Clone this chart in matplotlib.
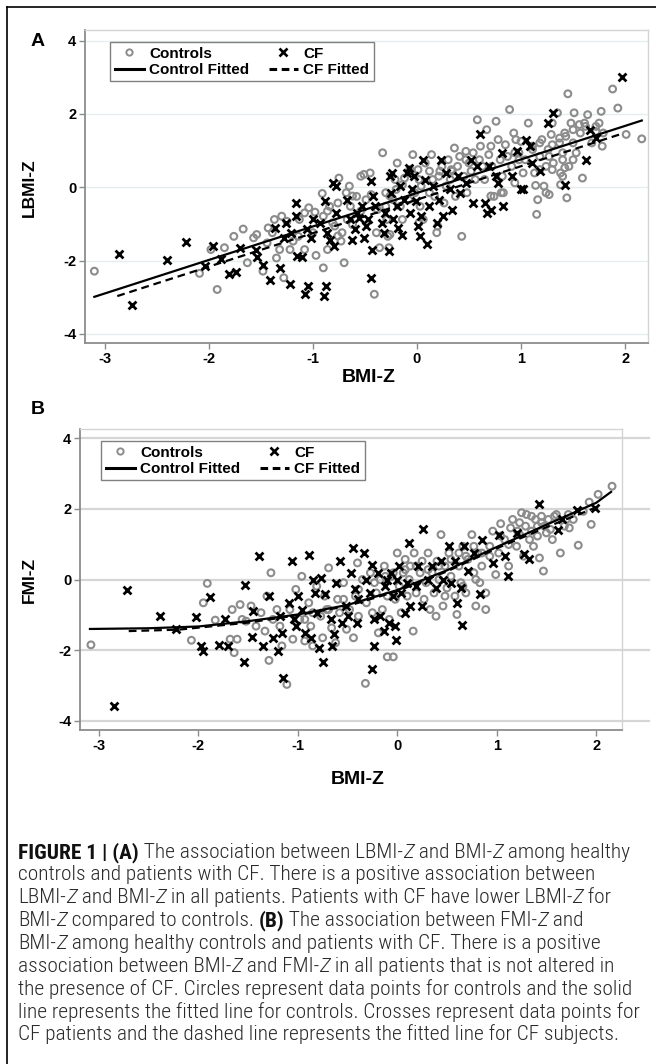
import matplotlib
matplotlib.use('Agg')
import matplotlib.pyplot as plt
from matplotlib import font_manager
from matplotlib.lines import Line2D
from matplotlib.legend_handler import HandlerLine2D
from matplotlib.transforms import IdentityTransform

####################################
#               Data               #
####################################

# Panel A: LBMI-Z vs BMI-Z
a_ctrl_x = [-3.10, -2.09, -1.92, -1.98, -1.85, -1.67, -1.63, -1.57, -1.54, -1.48, -1.44, -1.39, -1.35,
            -1.30, -1.28, -1.25, -1.22, -1.19, -1.13, -1.08, -1.04, -1.00, -0.98, -0.97, -0.91, -0.90,
            -0.86, -0.79, -0.76, -0.75, -0.72, -0.70, -0.68, -0.65, -0.64, -0.62, -0.58, -0.54, -0.51,
            -0.49, -0.45, -0.44, -0.41, -0.38, -0.36, -0.33, -0.30, -0.29, -0.28, -0.23, -0.21, -0.19,
            -0.16, -0.14, -0.12, -0.08, -0.06, -0.04, -0.02, 0.01, 0.03, 0.04, 0.06, 0.08, 0.12, 0.14,
            0.17, 0.19, 0.21, 0.24, 0.26, 0.28, 0.30, 0.32, 0.34, 0.36, 0.37, 0.39, 0.41, 0.43, 0.45,
            0.47, 0.48, 0.50, 0.52, 0.54, 0.56, 0.58, 0.60, 0.61, 0.63, 0.65, 0.67, 0.69, 0.71, 0.72,
            0.74, 0.76, 0.78, 0.80, 0.82, 0.83, 0.85, 0.87, 0.89, 0.91, 0.93, 0.94, 0.98, 1.00, 1.02,
            1.04, 1.07, 1.11, 1.13, 1.15, 1.16, 1.18, 1.20, 1.22, 1.24, 1.26, 1.27, 1.29, 1.31, 1.35,
            1.37, 1.38, 1.40, 1.42, 1.44, 1.45, 1.46, 1.48, 1.50, 1.51, 1.53, 1.57, 1.59, 1.61, 1.64,
            1.68, 1.72, 1.77, 1.79, 1.88, 1.93, 2.01, 2.16, -1.43, -1.37, -1.14, -1.08, -1.32, -1.76,
            -0.67, -0.86, -0.27, -0.73,
            1.30, 0.95, 1.11, 1.18, 1.30, 1.37, 1.43, 1.50, 1.56, 1.62, 1.72, 1.75, 1.78, 1.27, 1.40,
            1.50, 1.42, 1.40, 1.30, 1.18, 1.14, 1.24, 1.38, 0.81, 0.71, 0.94, 0.98, 0.47, 0.33, 0.22,
            0.15, 0.02, -0.07, 0.12, -0.14, -0.20, -0.26, -0.30, -0.54, -0.62, -0.76, -0.84, -0.90,
            -0.81, -0.39, -0.26, 0.02, 0.20]
a_ctrl_y = [-2.29, -2.35, -2.79, -1.70, -1.65, -1.14, -2.06, -1.38, -1.29, -2.29, -1.52, -1.24, -1.93,
            -0.79, -2.47, -0.93, -1.70, -1.47, -0.88, -0.70, -0.56, -1.24, -0.68, -1.86, -0.17, -2.20,
            -0.65, -1.06, -0.43, 0.25, -1.24, -2.06, -0.15, 0.03, -0.52, -1.02, -0.25, -0.65, 0.35,
            -0.34, 0.39, -0.20, -2.92, -0.61, -1.65, 0.94, -0.15, -0.88, -1.34, -0.34, 0.21, 0.66,
            -0.52, -0.88, 0.25, -0.34, 0.44, 0.89, -0.15, 0.48, -0.52, 0.03, -0.88, 0.66, 0.44, 0.89,
            -0.25, -1.24, 0.30, 0.57, -0.43, 0.03, 0.75, 0.21, 0.44, 1.07, -0.25, 0.57, 0.84, -1.34, 0.30,
            0.98, -0.15, 0.66, 0.44, 0.94, 0.21, 1.84, 0.75, 1.12, 0.57, 0.21, 1.57, 0.89, 1.12, 0.57,
            -0.25, 1.80, 1.30, 0.75, 0.30, -0.15, 1.16, 0.84, 2.12, 0.57, 1.48, 0.12, 0.94, 1.25, 0.39,
            0.75, 1.75, 1.12, 0.39, -0.74, -0.34, 0.84, 1.30, 0.03, 0.57, 1.03, -0.20, 1.44, 0.66, 2.03,
            1.21, 0.39, 0.94, 1.48, -0.29, 2.55, 0.57, 1.75, 1.21, 2.03, 0.94, 1.48, 0.25, 1.75, 1.98,
            1.21, 1.66, 2.07, 1.48, 2.68, 2.16, 1.44, 1.32, -1.11, -0.88, -1.34, -1.70, -1.70, -1.34,
            -0.88, -1.70, -1.65, -1.47,
            1.75, 1.30, 1.03, 1.21, 1.16, 1.34, 1.39, 1.57, 1.71, 1.66, 1.52, 1.75, 1.12, 0.84, 0.75,
            0.75, 0.53, 0.30, 0.48, 0.48, 0.05, -0.15, 0.07, -0.15, -0.24, 0.94, 0.75, 0.75, 0.48, 0.44,
            0.21, 0.21, 0.48, -0.15, 0.07, -0.06, -0.24, -0.52, 0.30, -0.24, -1.33, -0.52, -0.79,
            -0.97, -1.24, -1.29, -0.97, -1.06]

a_cf_x = [-2.86, -2.74, -2.40, -2.22, -2.04, -1.96, -1.88, -1.81, -1.74, -1.70, -1.55, -1.54, -1.48,
          -1.41, -1.36, -1.32, -1.28, -1.26, -1.22, -1.21, -1.16, -1.16, -1.15, -1.10, -1.08, -1.05,
          -1.06, -1.02, -1.00, -0.93, -0.89, -0.88, -0.87, -0.86, -0.84, -0.81, -0.80, -0.78, -0.78,
          -0.67, -0.64, -0.62, -0.60, -0.58, -0.56, -0.53, -0.51, -0.49, -0.47, -0.44, -0.44, -0.43,
          -0.42, -0.40, -0.34, -0.32, -0.31, -0.27, -0.26, -0.25, -0.24, -0.23, -0.19, -0.18, -0.16,
          -0.14, -0.12, -0.10, -0.08, -0.07, -0.05, -0.03, -0.01, 0.01, 0.03, 0.04, 0.06, 0.08, 0.10,
          0.12, 0.15, 0.19, 0.21, 0.23, 0.25, 0.28, 0.32, 0.34, 0.39, 0.41, 0.47, 0.52, 0.54, 0.58,
          0.61, 0.65, 0.67, 0.69, 0.71, 0.76, 0.78, 0.82, 0.83, 0.91, 0.96, 1.00, 1.02, 1.05, 1.09,
          1.11, 1.18, 1.26, 1.31, 1.42, 1.62, 1.66, 1.72, 1.97]
a_cf_y = [-1.82, -3.20, -1.99, -1.49, -2.15, -1.61, -1.95, -2.38, -2.31, -1.65, -1.70, -1.90, -2.11,
          -2.52, -1.11, -2.20, -1.38, -0.97, -2.65, -1.24, -0.43, -0.79, -1.88, -1.90, -2.92, -2.70,
          -1.14, -1.38, -0.88, -0.97, -2.97, -0.38, -2.70, -1.24, -1.43, 0.12, -1.61, 0.03, -0.70,
          -0.34, -0.88, -1.43, -1.15, -0.70, -0.84, -0.52, -1.38, -1.06, -0.88, -2.47, 0.16, -1.70,
          -0.25, -0.52, -0.97, -1.24, -0.70, -1.74, 0.30, -0.15, 0.39, -0.88, -0.52, -1.11, 0.03,
          -1.29, -0.34, 0.39, 0.53, -0.70, -0.06, 0.30, -0.38, -1.06, -1.34, -0.79, 0.75, 0.21, -1.56,
          -0.52, 0.03, -0.97, -0.34, 0.75, -0.79, 0.39, -0.06, -0.61, 0.30, -0.15, 0.12, 0.75, -0.43,
          0.57, 1.44, -0.43, -0.70, 0.57, -0.61, 0.30, 0.12, 0.94, -0.52, 0.30, 0.98, -0.06, -0.06,
          1.30, 1.12, 0.66, 0.44, 1.75, 2.03, 0.07, 0.75, 1.57, 1.34, 3.01]

a_ctrl_fit_x = [-3.10, 2.16]
a_ctrl_fit_y = [-2.99, 1.82]
a_cf_fit_x = [-2.88, 1.97]
a_cf_fit_y = [-2.97, 1.46]

# Panel B: FMI-Z vs BMI-Z
b_ctrl_x = [-3.08, -2.07, -1.95, -1.91, -1.83, -1.68, -1.66, -1.64, -1.61, -1.58, -1.56, -1.52, -1.47,
            -1.42, -1.37, -1.33, -1.31, -1.29, -1.27, -1.25, -1.21, -1.18, -1.16, -1.11, -1.08, -1.05,
            -1.02, -0.98, -0.96, -0.93, -0.89, -0.87, -0.85, -0.81, -0.77, -0.75, -0.73, -0.71, -0.69,
            -0.66, -0.62, -0.60, -0.58, -0.54, -0.51, -0.48, -0.44, -0.42, -0.40, -0.39, -0.35, -0.32,
            -0.31, -0.27, -0.25, -0.21, -0.19, -0.17, -0.15, -0.13, -0.10, -0.10, -0.08, -0.06, -0.04,
            -0.02, 0.00, 0.02, 0.04, 0.06, 0.08, 0.10, 0.12, 0.13, 0.16, 0.17, 0.19, 0.23, 0.25, 0.27,
            0.29, 0.31, 0.33, 0.35, 0.37, 0.39, 0.40, 0.42, 0.44, 0.46, 0.48, 0.50, 0.52, 0.54, 0.58,
            0.60, 0.62, 0.64, 0.66, 0.69, 0.71, 0.75, 0.77, 0.79, 0.81, 0.83, 0.85, 0.89, 0.93, 0.96,
            0.99, 1.02, 1.04, 1.08, 1.12, 1.16, 1.20, 1.21, 1.25, 1.27, 1.29, 1.33, 1.35, 1.37, 1.41,
            1.43, 1.45, 1.47, 1.50, 1.52, 1.56, 1.60, 1.64, 1.68, 1.72, 1.77, 1.82, 1.87, 1.93, 1.95,
            2.02, 2.16,
            1.04, 1.14, 1.23, 1.30, 1.39, 1.45, 1.48, 1.54, 1.41, 1.35, 1.23, 1.12, 0.93, 0.85, 0.77,
            0.69, 0.62, 0.54, 0.42, 0.31, 0.19, 0.08, -0.04, -0.12, -0.23, -0.39, -0.54, -0.69, -0.85,
            -0.93, 0.48, 0.66, 0.79, 0.89, 1.70, 1.58, 1.73]
b_ctrl_y = [-1.85, -1.72, -0.66, -0.11, -1.15, -1.69, -0.85, -2.07, -1.69, -0.71, -1.13, -1.18, -0.75,
            -1.32, -0.94, -1.46, -0.47, -2.29, 0.19, -1.13, -0.85, -1.32, -1.88, -2.97, -0.85, -1.69,
            -0.28, -1.13, 0.09, -1.74, -0.66, -1.32, -1.88, -0.19, -1.04, -1.65, -0.47, -0.85, 0.33,
            -1.37, -1.79, -0.56, -0.94, -0.09, -1.41, -0.85, -1.65, -0.47, 0.47, -1.04, 0.00, -2.94,
            -0.66, 0.19, -0.94, -0.38, -1.51, 0.00, -0.85, 0.38, -2.19, -0.47, -1.13, 0.09, -2.19,
            -0.56, 0.75, -0.19, -0.94, 0.19, 0.57, -0.47, 0.00, 0.38, -1.46, 0.75, -0.38, 0.19, 0.52,
            -0.56, -0.09, 0.75, -0.85, 0.19, -0.38, -1.04, 0.52, 0.00, 1.27, -0.75, 0.38, -0.24, 0.75,
            0.09, -0.47, -0.99, 0.38, -0.09, 0.94, -0.38, 0.57, 1.27, 0.19, -0.75, 0.75, -0.09, 0.38,
            -0.85, 0.94, 1.37, 0.14, 0.75, 1.58, 1.13, 0.38, 1.70, 0.94, 1.37, 1.89, 0.66, 1.51, 1.13,
            1.79, 0.94, 1.51, 0.61, 1.79, 0.24, 1.32, 1.70, 1.13, 1.84, 0.75, 1.51, 1.84, 1.70, 0.97,
            1.93, 2.19, 1.56, 2.41, 2.64,
            1.23, 1.46, 1.61, 1.84, 1.70, 1.61, 1.51, 1.42, 1.23, 1.37, 1.27, 0.99, 0.66, 0.75, 0.94,
            0.66, 0.75, 0.57, 0.38, 0.28, 0.38, 0.28, 0.19, 0.09, -0.09, -0.28, -0.56, -0.85, -0.94,
            -1.13, -0.47, -0.19, 0.00, -0.38, 1.70, 1.79, 1.46]

b_cf_x = [-2.72, -2.85, -2.39, -2.22, -2.02, -1.97, -1.95, -1.88, -1.79, -1.73, -1.70, -1.53, -1.54,
          -1.46, -1.45, -1.39, -1.35, -1.29, -1.25, -1.20, -1.18, -1.16, -1.15, -1.09, -1.06, -1.04,
          -1.02, -1.00, -0.96, -0.93, -0.89, -0.87, -0.85, -0.83, -0.81, -0.79, -0.77, -0.75, -0.73,
          -0.67, -0.66, -0.64, -0.62, -0.58, -0.56, -0.52, -0.50, -0.46, -0.44, -0.42, -0.40, -0.39,
          -0.33, -0.31, -0.27, -0.25, -0.25, -0.23, -0.23, -0.19, -0.17, -0.13, -0.12, -0.10, -0.08,
          -0.06, -0.04, -0.02, -0.01, 0.00, 0.02, 0.04, 0.08, 0.10, 0.12, 0.13, 0.19, 0.21, 0.25, 0.26,
          0.31, 0.35, 0.39, 0.44, 0.46, 0.52, 0.54, 0.58, 0.60, 0.64, 0.65, 0.67, 0.71, 0.77, 0.83,
          0.85, 0.96, 1.02, 1.08, 1.11, 1.20, 1.27, 1.32, 1.43, 1.62, 1.66, 1.81, 1.99]
b_cf_y = [-0.30, -3.58, -1.02, -1.41, -1.05, -1.88, -2.02, -0.49, -1.84, -1.13, -1.88, -0.16, -2.34,
          -1.62, -0.89, 0.66, -1.88, -0.47, -1.65, -2.02, -1.04, -1.51, -2.80, -0.66, 0.52, -1.13,
          -1.32, -0.47, -0.85, -1.51, 0.68, -1.65, 0.00, -0.38, -0.94, -1.93, 0.05, -2.34, -0.42,
          -1.13, -1.88, -1.55, -0.09, 0.52, -1.22, -0.75, -1.04, 0.19, 0.89, -0.28, -1.22, -0.56,
          0.75, 0.00, -0.38, 0.42, -2.52, -1.13, -1.88, 0.19, -1.04, -1.46, -0.19, 0.00, -1.22,
          0.19, -0.47, -1.32, -1.72, 0.00, 0.38, -0.38, -0.94, -0.09, 1.04, -0.75, -0.19, 0.38, -0.75,
          1.43, 0.00, 0.38, -0.24, 0.52, 0.00, 0.94, -0.09, 0.52, -0.66, -0.24, -1.29, 0.94, 0.24,
          0.75, -0.42, 1.13, 0.47, 1.27, 0.66, 0.11, 1.32, 0.71, 0.57, 2.15, 1.39, 1.70, 1.98, 2.02]

b_ctrl_fit_x = [-3.09, -2.5, -2.0, -1.5, -1.0, -0.5, 0.0, 0.5, 1.0, 1.5, 2.0, 2.15]
b_ctrl_fit_y = [-1.40, -1.38, -1.33, -1.18, -0.99, -0.72, -0.30, 0.26, 0.92, 1.55, 2.17, 2.48]
b_cf_fit_x = [-2.70, -2.2, -1.5, -1.0, -0.5, 0.0, 0.5, 1.0, 1.5, 2.0]
b_cf_fit_y = [-1.46, -1.42, -1.22, -1.01, -0.75, -0.33, 0.23, 0.88, 1.48, 2.04]

x_ticks = [-3, -2, -1, 0, 1, 2]
y_ticks = [-4, -2, 0, 2, 4]

caption_lines = [
    [("FIGURE 1 | (A)", "bold", "normal"), (" The association between LBMI-", "normal", "normal"),
     ("Z", "normal", "italic"), (" and BMI-", "normal", "normal"), ("Z", "normal", "italic"),
     (" among healthy", "normal", "normal")],
    [("controls and patients with CF. There is a positive association between", "normal", "normal")],
    [("LBMI-", "normal", "normal"), ("Z", "normal", "italic"), (" and BMI-", "normal", "normal"),
     ("Z", "normal", "italic"), (" in all patients. Patients with CF have lower LBMI-", "normal", "normal"),
     ("Z", "normal", "italic"), (" for", "normal", "normal")],
    [("BMI-", "normal", "normal"), ("Z", "normal", "italic"), (" compared to controls. ", "normal", "normal"),
     ("(B)", "bold", "normal"), (" The association between FMI-", "normal", "normal"),
     ("Z", "normal", "italic"), (" and", "normal", "normal")],
    [("BMI-", "normal", "normal"), ("Z", "normal", "italic"),
     (" among healthy controls and patients with CF. There is a positive", "normal", "normal")],
    [("association between BMI-", "normal", "normal"), ("Z", "normal", "italic"),
     (" and FMI-", "normal", "normal"), ("Z", "normal", "italic"),
     (" in all patients that is not altered in", "normal", "normal")],
    [("the presence of CF. Circles represent data points for controls and the solid", "normal", "normal")],
    [("line represents the fitted line for controls. Crosses represent data points for", "normal", "normal")],
    [("CF patients and the dashed line represents the fitted line for CF subjects.", "normal", "normal")],
]

####################################
#             Settings             #
####################################

W, H = 656, 1064
plt.rcParams['font.family'] = ['Liberation Sans', 'DejaVu Sans']
plt.rcParams['font.weight'] = 'bold'
plt.rcParams['axes.unicode_minus'] = False

ctrl_color = '#8c8c8c'
spine_color = '#8c8c8c'
frame_color = '#d4d4d4'

# caption is set in a light condensed face in the original; use one if there is any
installed = {f.name for f in font_manager.fontManager.ttflist}
cap_family = [f for f in ['Liberation Sans Narrow', 'Roboto Condensed', 'Open Sans Condensed']
              if f in installed] + ['Liberation Sans']
cap_light = 'light'


def px_rect(left, right, top, bottom):
    return [left / W, 1 - bottom / H, (right - left) / W, (bottom - top) / H]


class RightMarker(HandlerLine2D):
    def get_xdata(self, legend, xdescent, ydescent, width, height, fontsize):
        xd, xm = super().get_xdata(legend, xdescent, ydescent, width, height, fontsize)
        return xd, [-xdescent + 0.78 * width]


def make_panel(ax, cx, cy, fx, fy, cfx, cfy, gx, gy, xlim, ylim, grid_col, grid_lw, grid_ext):
    ax.set_xlim(*xlim)
    ax.set_ylim(*ylim)
    for yv in y_ticks:
        ax.axhline(yv, xmin=0, xmax=grid_ext, color=grid_col, lw=grid_lw, zorder=0, clip_on=False)
    ax.scatter(cx, cy, s=24, facecolors='none', edgecolors=ctrl_color, linewidths=1.5, zorder=2)
    ax.scatter(fx, fy, s=32, marker='x', color='black', linewidths=2.0, zorder=3)
    ax.plot(cfx, cfy, color='black', lw=1.6, zorder=4)
    ax.plot(gx, gy, color='black', lw=1.6, ls=(0, (3.5, 2.2)), zorder=4)
    ax.set_xticks(x_ticks)
    ax.set_yticks(y_ticks)
    ax.tick_params(direction='out', length=4.3, width=1, color=spine_color, labelsize=10.5, pad=2)
    for side in ['left', 'bottom']:
        ax.spines[side].set_color(spine_color)
        ax.spines[side].set_linewidth(1.3)
    for side in ['top', 'right']:
        ax.spines[side].set_color(frame_color)
        ax.spines[side].set_linewidth(1.0)


def add_legend(ax, left, top):
    handles = [Line2D([], [], marker='o', ls='none', mfc='none', mec=ctrl_color, ms=4.5, mew=1.4),
               Line2D([], [], color='black', lw=2.2),
               Line2D([], [], marker='x', ls='none', color='black', ms=5.5, mew=1.9),
               Line2D([], [], color='black', lw=2.2, ls=(0, (2.5, 1.5)))]
    labels = ['Controls', 'Control Fitted', 'CF', 'CF Fitted']
    leg = ax.legend(handles, labels, ncol=2, loc='upper left',
                    bbox_to_anchor=(left / W, 1 - top / H), bbox_transform=ax.figure.transFigure,
                    fontsize=11, frameon=True, fancybox=False, framealpha=1, edgecolor='#808080',
                    borderpad=0.3, labelspacing=0.15, handlelength=1.9, handletextpad=0.35,
                    columnspacing=1.3, borderaxespad=0,
                    handler_map={handles[0]: RightMarker(numpoints=1), handles[2]: RightMarker(numpoints=1)})
    leg.get_frame().set_linewidth(1.0)


####################################
#               Main               #
####################################

fig = plt.figure(figsize=(W / 100, H / 100), dpi=100)

# border of the page crop
fig.add_artist(Line2D([7 / W, 1], [1 - 7 / H, 1 - 7 / H], transform=fig.transFigure, color='black', lw=1.2))
fig.add_artist(Line2D([7 / W, 7 / W], [1 - 7 / H, 0], transform=fig.transFigure, color='black', lw=1.2))

ax_a = fig.add_axes(px_rect(85, 648, 30, 343))
make_panel(ax_a, a_ctrl_x, a_ctrl_y, a_cf_x, a_cf_y, a_ctrl_fit_x, a_ctrl_fit_y, a_cf_fit_x, a_cf_fit_y,
           (-3.19, 2.22), (-4.25, 4.29), '#e3ecee', 0.9, 1.0)
add_legend(ax_a, 110, 42)

ax_b = fig.add_axes(px_rect(80, 622, 429, 730))
make_panel(ax_b, b_ctrl_x, b_ctrl_y, b_cf_x, b_cf_y, b_ctrl_fit_x, b_ctrl_fit_y, b_cf_fit_x, b_cf_fit_y,
           (-3.19, 2.26), (-4.26, 4.26), '#d6d6d6', 1.6, 1.05)
add_legend(ax_b, 101, 441)

# axis labels and panel letters
fig.text(369 / W, 1 - 377 / H, 'BMI-Z', fontsize=14, ha='center', va='center')
fig.text(358 / W, 1 - 780 / H, 'BMI-Z', fontsize=14, ha='center', va='center')
fig.text(29 / W, 1 - 188 / H, 'LBMI-Z', fontsize=12.5, ha='center', va='center', rotation=90)
fig.text(29 / W, 1 - 580 / H, 'FMI-Z', fontsize=12.5, ha='center', va='center', rotation=90)
fig.text(38 / W, 1 - 42 / H, 'A', fontsize=14, ha='center', va='center')
fig.text(38 / W, 1 - 410 / H, 'B', fontsize=14, ha='center', va='center')

# caption, sized so that the longest line fits the text column
renderer = fig.canvas.get_renderer()


def run_weight(wt):
    return wt if wt == 'bold' else cap_light


def runs_width(runs, size):
    w = 0
    for s, wt, st in runs:
        t = fig.text(0, 0, s, fontsize=size, fontweight=run_weight(wt), fontstyle=st, family=cap_family,
                     transform=IdentityTransform())
        w += t.get_window_extent(renderer).width
        t.remove()
    return w


cap_left, cap_right = 18, 640
base = 12
cap_size = min(base * (cap_right - cap_left) / runs_width(r, base) for r in caption_lines)
for i, runs in enumerate(caption_lines):
    x = cap_left
    y = H - (850 + i * 22.8)
    for s, wt, st in runs:
        t = fig.text(x, y, s, fontsize=cap_size, fontweight=run_weight(wt), fontstyle=st, family=cap_family,
                     color='#111111' if wt == 'bold' else '#2a2a2a', va='center_baseline',
                     transform=IdentityTransform())
        x += t.get_window_extent(renderer).width

fig.savefig('out.png', dpi=100)
